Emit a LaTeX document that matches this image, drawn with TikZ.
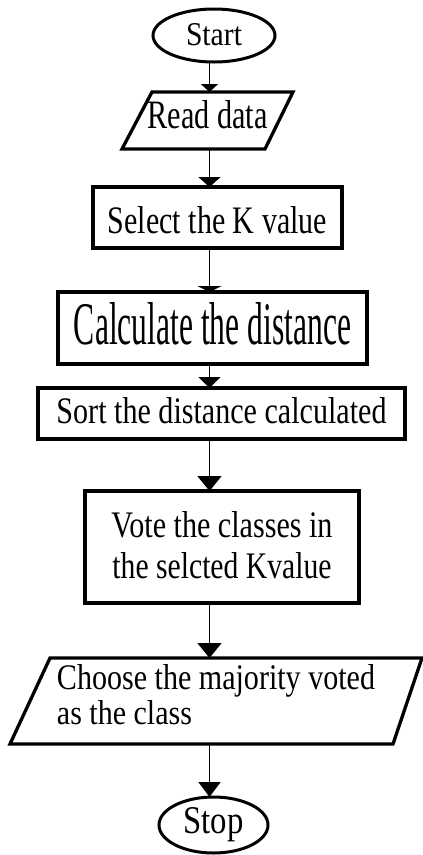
\documentclass[tikz,border=0pt]{standalone}
\usepackage{fontspec}
\setmainfont{Liberation Serif}
\usetikzlibrary{arrows.meta,shapes.geometric,calc}
\newcommand\fitt[3]{\resizebox{#1pt}{#2pt}{#3}}
\newcommand\twoc[3]{\vbox{\baselineskip=#1pt\lineskiplimit=-100pt\lineskip=0pt\halign{\hfil##\hfil\cr #2\cr #3\cr}}}
\newcommand\twol[3]{\vbox{\baselineskip=#1pt\lineskiplimit=-100pt\lineskip=0pt\halign{##\hfil\cr #2\cr #3\cr}}}
\begin{document}
\begin{tikzpicture}[x=1pt,y=-1pt,
  every node/.style={inner sep=0pt,outer sep=0pt},
  boxnode/.style={draw,rectangle,line width=3.3pt},
  ellnode/.style={draw,ellipse,line width=3pt},
  iobord/.style={line width=3.3pt,line join=miter},
  arr/.style={line width=1.7pt}]
\useasboundingbox (0,0) rectangle (423,855);
\coordinate (ax) at (209.5,0);

\node[ellnode,minimum width=122pt,minimum height=53pt,text height=22pt,text depth=3pt] (start) at (214,35.5) {\fitt{56}{22}{Start}};

\node[minimum width=171pt,minimum height=57pt,text height=28pt,text depth=13pt] (read) at (207.5,120.5) {\fitt{120}{28}{Read data}};
\draw[iobord] ($(read.north west)+(30,0)$) -- (read.north east) -- ($(read.south east)+(-28,0)$) -- (read.south west) -- cycle;

\node[boxnode,minimum width=249pt,minimum height=61pt,text height=31pt,text depth=0pt] (sel) at (217.5,217.5) {\fitt{219}{27}{Select the K value}};

\node[boxnode,line width=4.4pt,minimum width=309pt,minimum height=72pt,text height=42pt,text depth=10pt] (calc) at (212.5,328) {\fitt{277}{42}{Calculate the distance}};

\node[boxnode,minimum width=367pt,minimum height=51pt,text height=26pt,text depth=7pt] (sort) at (221.5,413.5) {\fitt{330}{26}{Sort the distance calculated}};

\node[boxnode,minimum width=274pt,minimum height=112pt,text depth=5pt] (vote) at (222,547) {\twoc{41}{\fitt{221}{26}{Vote the classes in}}{\fitt{219}{26}{the selcted Kvalue}}};

\node[minimum width=412pt,minimum height=86pt,text depth=14pt] (choose) at (216,701) {\twol{35}{\fitt{318}{25}{Choose the majority voted}}{\fitt{135}{24}{as the class}}};
\draw[iobord] ($(choose.north west)+(40,0)$) -- (choose.north east) -- ($(choose.south east)+(-29,0)$) -- (choose.south west) -- cycle;

\node[ellnode,minimum width=109pt,minimum height=56pt,text height=26pt,text depth=10pt] (stop) at (213.5,825) {\fitt{60}{26}{Stop}};

\draw[arr,line width=1.4pt,-{Triangle[width=17pt,length=8pt]}] (start.south -| ax) -- (read.north -| ax);
\draw[arr,-{Triangle[width=22pt,length=10pt]}] (read.south -| ax) -- (sel.north -| ax);
\draw[arr,line width=1.2pt,-{Triangle[width=24pt,length=6pt]}] (sel.south -| ax) -- (calc.north -| ax);
\draw[arr,-{Triangle[width=22pt,length=11pt]}] (calc.south -| ax) -- (sort.north -| ax);
\draw[arr,-{Triangle[width=24pt,length=15pt]}] (sort.south -| ax) -- (vote.north -| ax);
\draw[arr,-{Triangle[width=24pt,length=15pt]}] (vote.south -| ax) -- (choose.north -| ax);
\draw[arr,-{Triangle[width=22pt,length=15pt]}] (choose.south -| ax) -- (stop.north -| ax);
\end{tikzpicture}
\end{document}
